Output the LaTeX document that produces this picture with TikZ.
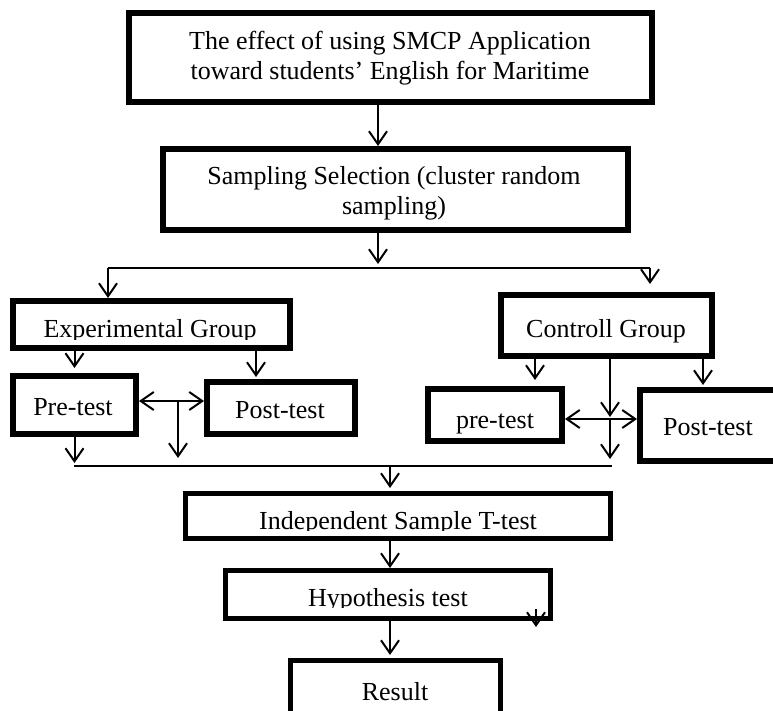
\documentclass[tikz,border=0pt]{standalone}
\usepackage{fontspec}
\setmainfont{Liberation Serif}
\usetikzlibrary{arrows.meta,calc}

\begin{document}
\begin{tikzpicture}[x=1pt,y=-1pt,
    box/.style={draw,line width=6pt,inner sep=0pt},
    lbl/.style={anchor=base,inner sep=0pt,align=center,font=\fontsize{26}{30}\selectfont},
    arr/.style={line width=2pt,-{Straight Barb[length=13pt,width=18pt]}},
    both/.style={line width=2pt,{Straight Barb[length=13pt,width=18pt]}-{Straight Barb[length=13pt,width=18pt]}},
    wire/.style={line width=2pt}]
    \useasboundingbox (0,0) rectangle (773,711);

    % boxes
    \node[box,minimum width=523pt,minimum height=89pt] (effect) at (390.5,57.5) {};
    \node[box,minimum width=465pt,minimum height=81pt] (sample) at (395.5,189.5) {};
    \node[box,minimum width=277pt,minimum height=47pt] (expg) at (151.5,324.5) {};
    \node[box,minimum width=123pt,minimum height=58pt] (preA) at (74.5,405) {};
    \node[box,minimum width=148pt,minimum height=52pt] (postA) at (281,408) {};
    \node[box,minimum width=211pt,minimum height=61pt] (ctrl) at (606.5,325.5) {};
    \node[box,minimum width=134pt,minimum height=52pt] (preB) at (495,415) {};
    \node[box,minimum width=147pt,minimum height=71pt] (postB) at (713.5,425.5) {};
    \node[box,line width=5pt,minimum width=425pt,minimum height=45pt] (indep) at (398,516) {};
    \node[box,line width=5pt,minimum width=325pt,minimum height=48pt] (hypo) at (388,594.5) {};
    \node[box,line width=5pt,minimum width=210pt,minimum height=77pt] (result) at (395.5,699) {};

    % texts (base = baseline of the last line)
    \node[lbl] (effectT) at (390,80) {The effect of using SMCP Application\\toward students’ English for Maritime};
    \begin{scope}
      \clip (0,0) rectangle (773,220);
      \node[lbl] (sampleT) at (394,215) {Sampling Selection (cluster random\\sampling)};
    \end{scope}
    \begin{scope}
      \clip (0,0) rectangle (773,339);
      \node[lbl] (expgT) at (150,337) {Experimental Group};
    \end{scope}
    \node[lbl] (preAT) at (73,415) {Pre-test};
    \node[lbl] (postAT) at (280,418) {Post-test};
    \node[lbl] (ctrlT) at (606,337) {Controll Group};
    \node[lbl] (preBT) at (495,428) {pre-test};
    \node[lbl] (postBT) at (708,435) {Post-test};
    \begin{scope}
      \clip (0,0) rectangle (773,530);
      \node[lbl] (indepT) at (398,529) {Independent Sample T-test};
    \end{scope}
    \begin{scope}
      \clip (0,0) rectangle (773,607);
      \node[lbl] (hypoT) at (388,606) {Hypothesis test};
    \end{scope}
    \node[lbl] (resultT) at (395,700) {Result};

    % branching points
    \coordinate (fork) at (378,268);
    \coordinate (forkL) at (108,268);
    \coordinate (forkR) at (650,268);
    \coordinate (crossA) at (178,401);
    \coordinate (crossB) at (610,419);
    \coordinate (join) at (390,466);
    \coordinate (joinL) at (74,466);
    \coordinate (joinR) at (612,466);

    % connectors
    \draw[arr] (effect.south -| fork) -- (sample.north -| fork);
    \draw[arr] (sample.south -| fork) -- ($(fork)+(0,-4)$);
    \draw[wire] (forkL) -- (forkR);
    \draw[arr] (forkL) -- (expg.north -| forkL);
    \draw[arr] (forkR) -- ($(ctrl.north -| forkR)+(0,-8)$);

    \draw[arr] (expg.south -| preA.north) -- ($(preA.north)+(0,-5)$);
    \draw[arr] ($(expg.south -| postA.north)+(-25,0)$) -- ($(postA.north)+(-25,-2)$);
    \draw[both] (crossA -| preA.east) -- (crossA -| postA.west);
    \draw[arr] (crossA) -- ++(0,57);
    \draw[arr] (preA.south) -- ($(preA.south |- joinL)+(0,-3)$);

    \draw[arr] ($(ctrl.south)+(-71.5,0)$) -- ($(preB.north)+(40,-6)$);
    \draw[arr] (ctrl.south -| crossB) -- ($(crossB)+(0,-2)$);
    \draw[arr] ($(ctrl.south)+(96.5,0)$) -- ($(postB.north)+(-10.5,-2)$);
    \draw[both] (crossB -| preB.east) -- (crossB -| postB.west);
    \draw[arr] (crossB) -- ++(0,40);

    \draw[wire] (joinL) -- (joinR);
    \draw[arr] (join) -- ($(indep.north -| join)+(0,-3)$);
    \draw[arr] (indep.south -| join) -- (hypo.north -| join);
    \draw[arr] ($(hypo.south)+(148,-12)$) -- ($(hypo.south)+(148,6)$);
    \draw[arr] (hypo.south -| join) -- ($(result.north -| join)+(0,-3)$);
\end{tikzpicture}
\end{document}
